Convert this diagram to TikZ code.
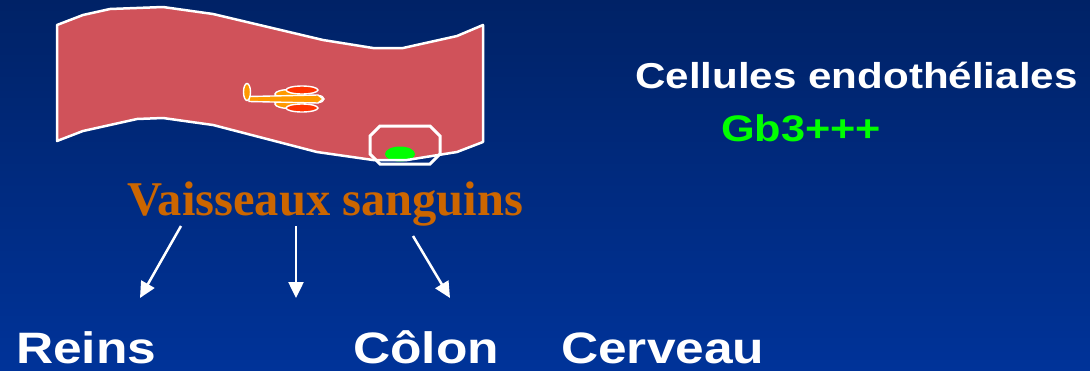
\documentclass[tikz,border=0pt]{standalone}
\usepackage{fontspec}
\usetikzlibrary{arrows.meta}
\newfontfamily\labelfont[FakeStretch=1.17]{Liberation Sans}
\newfontfamily\titlefont{Liberation Serif}
\definecolor{bgtop}{HTML}{002266}
\definecolor{bgbottom}{HTML}{003399}
\definecolor{vessel}{RGB}{208,82,90}
\definecolor{titlebrown}{HTML}{CC6600}
\definecolor{planeorange}{HTML}{FF9900}
\definecolor{enginered}{HTML}{FF3300}
\definecolor{cellgreen}{HTML}{00FF00}
\tikzset{
  organ/.style={text=white, font=\labelfont\bfseries\fontsize{44}{50}\selectfont, anchor=base west, inner sep=0pt},
  flow/.style={draw=white, line width=2.5pt, -{Triangle[length=16pt,width=15pt]}},
  planepart/.style={draw=white, line width=1.4pt},
}
\begin{document}
\begin{tikzpicture}[x=1pt,y=-1pt]
  % backdrop
  \shade[top color=bgtop, bottom color=bgbottom] (0,0) rectangle (1090,370);
  \useasboundingbox (0,0) rectangle (1090,370);

  % blood vessel band
  \path[fill=vessel] (57,25) -- (83,15) -- (110,9) -- (163,7) -- (213,14) -- (323,40)
    -- (373,48) -- (403,48) -- (457,36) -- (483,25) -- (483,142) -- (457,152)
    -- (407,160) -- (373,160) -- (317,152) -- (213,125) -- (163,118) -- (137,119)
    -- (83,131) -- (57,141) -- cycle;
  % endothelial cell
  \fill[cellgreen] (400,154) ellipse [x radius=15, y radius=7.5];
  \draw[white, line width=2.5pt, line join=round] (57,25) -- (83,15) -- (110,9) -- (163,7) -- (213,14) -- (323,40)
    -- (373,48) -- (403,48) -- (457,36) -- (483,25) -- (483,142) -- (457,152)
    -- (407,160) -- (373,160) -- (317,152) -- (213,125) -- (163,118) -- (137,119)
    -- (83,131) -- (57,141) -- cycle;
  \draw[white, line width=3pt] (380,126) -- (430,126) -- (440,136) -- (440,154) -- (430,164)
    -- (380,164) -- (370,154) -- (370,136) -- cycle;

  % small aircraft inside the vessel
  \draw[planepart, fill=planeorange] (290,94) ellipse [x radius=15, y radius=4.5];
  \draw[planepart, fill=planeorange] (290,104) ellipse [x radius=15, y radius=4.5];
  \draw[planepart, fill=planeorange] (318,99) ellipse [x radius=6, y radius=3.5];
  \draw[planepart, fill=planeorange] (249,96.5) -- (318,95) -- (323,99) -- (318,103) -- (249,101.5) -- cycle;
  \draw[planepart, fill=planeorange] (247,92) ellipse [x radius=3.5, y radius=8.5];
  \draw[planepart, fill=enginered] (302,90) ellipse [x radius=16, y radius=4];
  \draw[planepart, fill=enginered] (302,108) ellipse [x radius=16, y radius=4];

  % labels
  \node[text=titlebrown, font=\titlefont\bfseries\fontsize{48.5}{52}\selectfont, anchor=base west, inner sep=0pt]
    (vaisseaux) at (127,215) {Vaisseaux sanguins};
  \node[text=white, font=\labelfont\bfseries\fontsize{36}{40}\selectfont, anchor=base west, inner sep=0pt]
    (cellules) at (635,88) {Cellules endothéliales};
  \node[text=cellgreen, font=\labelfont\bfseries\fontsize{37}{40}\selectfont, anchor=base west, inner sep=0pt]
    (gb3) at (721,141) {Gb3+++};
  \node[organ] (reins) at (16,363) {Reins};
  \node[organ] (colon) at (353,363) {Côlon};
  \node[organ] (cerveau) at (561,363) {Cerveau};

  % arrows towards the organs
  \coordinate (s1) at (181,226);
  \coordinate (s2) at (296,226);
  \coordinate (s3) at (413,236);
  \coordinate (t1) at (140,298);
  \coordinate (t2) at (296,298);
  \coordinate (t3) at (450,298);
  \draw[flow] (s1) -- (t1);
  \draw[flow] (s2) -- (t2);
  \draw[flow] (s3) -- (t3);
\end{tikzpicture}
\end{document}
